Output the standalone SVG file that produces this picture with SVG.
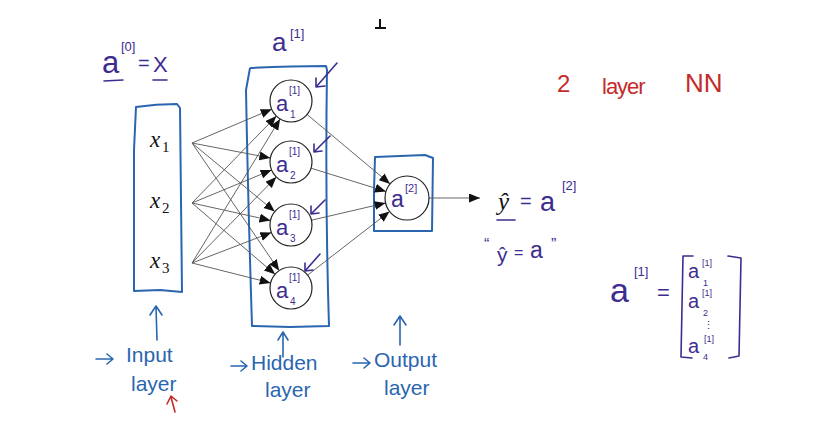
<svg xmlns="http://www.w3.org/2000/svg" width="828" height="430" viewBox="0 0 828 430">
<style>
.box{fill:none;stroke:#2a66b0;stroke-width:2;stroke-linejoin:round}
.node{fill:#fff;stroke:#222;stroke-width:1.2}
.conn{stroke:#555;stroke-width:0.9;fill:none}
.pu{fill:#3e2c8f;font-family:"Liberation Sans",sans-serif}
.bl{fill:#2a66b0;font-family:"Liberation Sans",sans-serif}
.rd{fill:#c42b2b;font-family:"Liberation Sans",sans-serif}
.xm{fill:#111;font-family:"Liberation Serif",serif;font-style:italic}
.xs{fill:#111;font-family:"Liberation Serif",serif}
.pl{stroke:#3e2c8f;stroke-width:1.6;fill:none;stroke-linecap:round;stroke-linejoin:round}
.bll{stroke:#2a66b0;stroke-width:1.6;fill:none;stroke-linecap:round;stroke-linejoin:round}
.rdl{stroke:#c42b2b;stroke-width:1.6;fill:none;stroke-linecap:round;stroke-linejoin:round}
</style>
<defs>
<marker id="ah" markerUnits="userSpaceOnUse" markerWidth="12" markerHeight="10" refX="11" refY="4.5" orient="auto">
<path d="M0,0 L11,4.5 L0,9 z" fill="#111"/>
</marker>
</defs>
<rect width="828" height="430" fill="#fff"/>
<path d="M380,19 L380,27 M375,28 L386,28" stroke="#111" stroke-width="2" fill="none"/>

<g id="input-layer">
<path class="box" d="M136,107 Q156,104 177,104 L180,108 L182,292 L160,290 L134,291 L134,150 Z"/>
<text class="xm" x="150" y="147" font-size="23">x</text><text class="xs" x="162" y="152" font-size="15">1</text>
<text class="xm" x="150" y="208" font-size="23">x</text><text class="xs" x="162" y="213" font-size="15">2</text>
<text class="xm" x="150" y="268" font-size="23">x</text><text class="xs" x="162" y="273" font-size="15">3</text>
</g>

<g id="hidden-layer">
<path class="box" d="M250,68 Q290,66 326,66 L327,70 Q325,200 329,326 L290,327 L252,326 Q248,200 246,90 L250,68"/>
</g>

<g id="output-layer">
<path class="box" d="M375,157 L425,155 L433,158 L432,231 L374,231 L374,190 Z"/>
</g>

<g id="connectors">
<line class="conn" x1="192" y1="143" x2="271.7" y2="109.2" marker-end="url(#ah)"/>
<line class="conn" x1="192" y1="143" x2="270.4" y2="158.0" marker-end="url(#ah)"/>
<line class="conn" x1="192" y1="143" x2="274.8" y2="211.6" marker-end="url(#ah)"/>
<line class="conn" x1="192" y1="143" x2="279.2" y2="270.7" marker-end="url(#ah)"/>
<line class="conn" x1="192" y1="203" x2="276.4" y2="116.1" marker-end="url(#ah)"/>
<line class="conn" x1="192" y1="203" x2="271.6" y2="170.0" marker-end="url(#ah)"/>
<line class="conn" x1="192" y1="203" x2="270.5" y2="220.4" marker-end="url(#ah)"/>
<line class="conn" x1="192" y1="203" x2="275.1" y2="274.3" marker-end="url(#ah)"/>
<line class="conn" x1="192" y1="263" x2="280.1" y2="118.9" marker-end="url(#ah)"/>
<line class="conn" x1="192" y1="263" x2="276.3" y2="177.0" marker-end="url(#ah)"/>
<line class="conn" x1="192" y1="263" x2="271.4" y2="232.5" marker-end="url(#ah)"/>
<line class="conn" x1="192" y1="263" x2="270.6" y2="282.9" marker-end="url(#ah)"/>
<line class="conn" x1="307.1" y1="114.5" x2="390.1" y2="183.9" marker-end="url(#ah)"/>
<line class="conn" x1="311.1" y1="168.2" x2="386.0" y2="191.5" marker-end="url(#ah)"/>
<line class="conn" x1="311.5" y1="220.2" x2="385.6" y2="203.0" marker-end="url(#ah)"/>
<line class="conn" x1="307.6" y1="275.1" x2="389.6" y2="211.5" marker-end="url(#ah)"/>
<line class="conn" x1="429" y1="198" x2="480" y2="198" marker-end="url(#ah)"/>
</g>

<g id="h1"><circle class="node" cx="291" cy="101" r="21"/>
<text class="pu" x="276" y="111" font-size="22">a</text><text class="pu" x="289" y="94" font-size="10">[1]</text><text class="pu" x="290" y="118" font-size="10">1</text></g>
<g id="h2"><circle class="node" cx="291" cy="162" r="21"/>
<text class="pu" x="276" y="172" font-size="22">a</text><text class="pu" x="289" y="155" font-size="10">[1]</text><text class="pu" x="290" y="179" font-size="10">2</text></g>
<g id="h3"><circle class="node" cx="291" cy="225" r="21"/>
<text class="pu" x="276" y="235" font-size="22">a</text><text class="pu" x="289" y="218" font-size="10">[1]</text><text class="pu" x="290" y="242" font-size="10">3</text></g>
<g id="h4"><circle class="node" cx="291" cy="288" r="21"/>
<text class="pu" x="276" y="298" font-size="22">a</text><text class="pu" x="289" y="281" font-size="10">[1]</text><text class="pu" x="290" y="305" font-size="10">4</text></g>
<g id="out"><circle class="node" cx="407" cy="198" r="22"/>
<text class="pu" x="391" y="207" font-size="23">a</text><text class="pu" x="405" y="192" font-size="11">[2]</text></g>

<g id="annot-arrows">
<path class="pl" d="M337,63 L316,87 M316,78 L316,87 L325,86"/>
<path class="pl" d="M330,136 L314,152 M314,144 L314,152 L322,151"/>
<path class="pl" d="M325,200 L311,214 M311,206 L311,214 L319,213"/>
<path class="pl" d="M320,254 L305,271 M305,263 L305,271 L313,270"/>
<path class="bll" d="M157,340 L156,307 M150,315 L156,306 L162,315"/>
<path class="bll" d="M283,357 L283,333 M278,340 L283,332 L288,340"/>
<path class="bll" d="M400,345 L400,317 M394,325 L400,316 L406,325"/>
<path class="rdl" d="M175,412 L171,397 M167,404 L171,396 L177,401"/>
<path class="bll" d="M96,359 L113,359 M107,354 L113,359 L107,364"/>
<path class="bll" d="M231,366 L247,366 M241,361 L247,366 L241,371"/>
<path class="bll" d="M353,363 L370,363 M364,358 L370,363 L364,368"/>
</g>

<g id="labels">
<text class="pu" x="102" y="73" font-size="31">a</text><text class="pu" x="121" y="51" font-size="13">[0]</text>
<text class="pu" x="138" y="70" font-size="20">=</text><text class="pu" x="153" y="72" font-size="22">X</text>
<path class="pl" d="M104,81 L123,80 M153,80 L167,80"/>
<text class="pu" x="272" y="51" font-size="26">a</text><text class="pu" x="290" y="38" font-size="13">[1]</text>

<text class="rd" x="557" y="92" font-size="24">2</text>
<text class="rd" x="602" y="94" font-size="22" letter-spacing="-1">layer</text>
<text class="rd" x="685" y="92" font-size="26">NN</text>

<text class="xm" x="498" y="210" font-size="25">ŷ</text>
<path class="pl" stroke="#2a66b0" d="M497,220 L515,220"/>
<text class="pu" x="520" y="208" font-size="20">=</text>
<text class="pu" x="540" y="211" font-size="27">a</text><text class="pu" x="562" y="190" font-size="13">[2]</text>
<text class="pu" x="484" y="250" font-size="16">“</text>
<text class="pu" x="497" y="262" font-size="21">ŷ</text>
<text class="pu" x="514" y="258" font-size="16">=</text>
<text class="pu" x="530" y="258" font-size="23">a</text>
<text class="pu" x="551" y="250" font-size="16">”</text>

<text class="pu" x="610" y="302" font-size="34">a</text><text class="pu" x="634" y="276" font-size="13">[1]</text>
<text class="pu" x="657" y="300" font-size="22">=</text>
<path class="pl" d="M693,256 L683,256 L681,357 L692,358 M728,256 L741,258 L739,356 L729,358"/>
<text class="pu" x="688" y="278" font-size="20">a</text><text class="pu" x="702" y="266" font-size="9">[1]</text><text class="pu" x="703" y="286" font-size="9">1</text>
<text class="pu" x="688" y="308" font-size="20">a</text><text class="pu" x="702" y="296" font-size="9">[1]</text><text class="pu" x="703" y="316" font-size="9">2</text>
<text class="pu" x="703" y="329" font-size="11">⋮</text>
<text class="pu" x="688" y="353" font-size="20">a</text><text class="pu" x="704" y="342" font-size="9">[1]</text><text class="pu" x="703" y="360" font-size="9">4</text>

<text class="bl" x="126" y="362" font-size="21">Input</text>
<text class="bl" x="131" y="391" font-size="21">layer</text>
<text class="bl" x="251" y="370" font-size="21">Hidden</text>
<text class="bl" x="265" y="397" font-size="21">layer</text>
<text class="bl" x="374" y="367" font-size="21">Output</text>
<text class="bl" x="384" y="395" font-size="21">layer</text>
</g>
</svg>
